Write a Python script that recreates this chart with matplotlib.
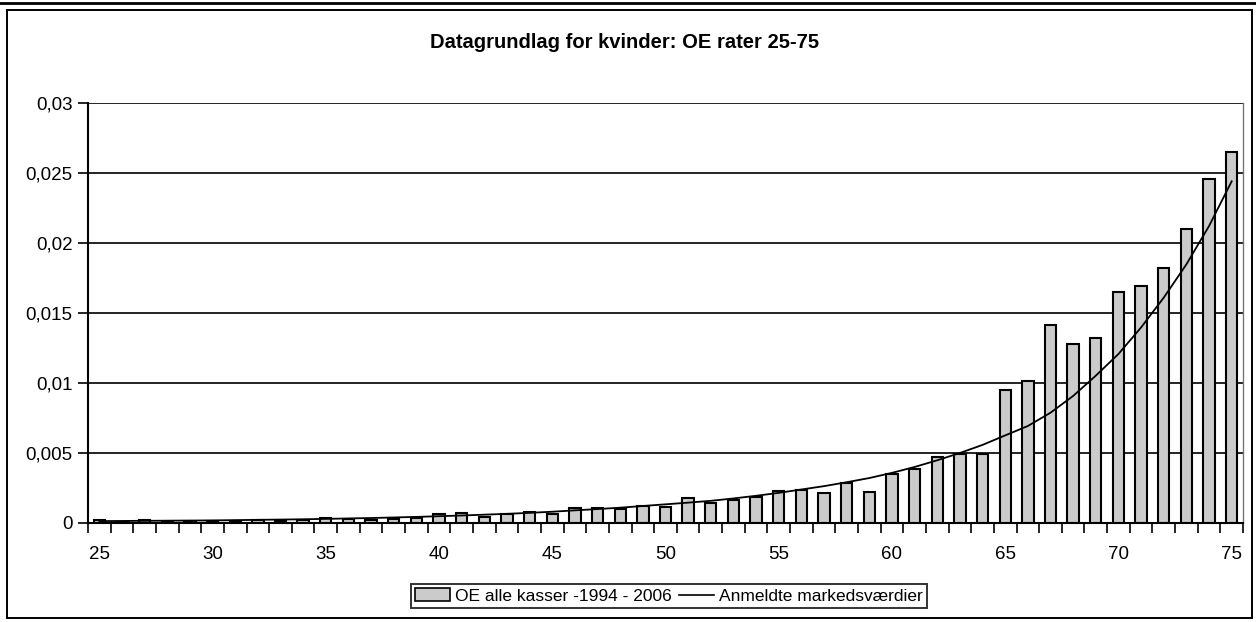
import matplotlib
matplotlib.use("Agg")
import matplotlib.pyplot as plt
from matplotlib.patches import Rectangle, Patch
from matplotlib.lines import Line2D
from matplotlib.ticker import FixedLocator

plt.rcParams['font.family'] = ['Liberation Sans', 'DejaVu Sans']

ages = list(range(25, 76))
oe_rates = [0.00018, 0.00005, 0.00015, 0.00005, 0.00006, 0.00010, 0.00012, 0.00018,
            0.00012, 0.00015, 0.00032, 0.00022, 0.00020, 0.00028, 0.00030, 0.00058,
            0.00066, 0.00041, 0.00060, 0.00073, 0.00060, 0.00101, 0.00101, 0.00094,
            0.00120, 0.00113, 0.00177, 0.00142, 0.00160, 0.00185, 0.00227, 0.00235,
            0.00211, 0.00285, 0.00220, 0.00350, 0.00382, 0.00470, 0.00487, 0.00487,
            0.00950, 0.01015, 0.01412, 0.01280, 0.01316, 0.01650, 0.01688, 0.01822,
            0.02100, 0.02456, 0.02653]
market_values = [0.00010, 0.00011, 0.00012, 0.00013, 0.00014, 0.00015, 0.00017, 0.00019,
                 0.00021, 0.00023, 0.00026, 0.00029, 0.00032, 0.00036, 0.00040, 0.00045,
                 0.00050, 0.00056, 0.00062, 0.00069, 0.00077, 0.00087, 0.00096, 0.00106,
                 0.00118, 0.00130, 0.00142, 0.00155, 0.00172, 0.00191, 0.00212, 0.00236,
                 0.00260, 0.00288, 0.00318, 0.00355, 0.00397, 0.00445, 0.00497, 0.00555,
                 0.00623, 0.00690, 0.00785, 0.00905, 0.01050, 0.01205, 0.01395, 0.01608,
                 0.01846, 0.02120, 0.02440]
x_labels = [25, 30, 35, 40, 45, 50, 55, 60, 65, 70, 75]
y_ticks = [0, 0.005, 0.01, 0.015, 0.02, 0.025, 0.03]
y_labels = ["0", "0,005", "0,01", "0,015", "0,02", "0,025", "0,03"]

title = "Datagrundlag for kvinder: OE rater 25-75"
bar_label = "OE alle kasser -1994 - 2006"
line_label = "Anmeldte markedsværdier"

bar_color = '#cbcbcb'

fig = plt.figure(figsize=(12.56, 6.22), dpi=100)
ax = fig.add_axes([88/1256, 1-522.5/622, (1243-88)/1256, (522.5-103)/622])

for yv in y_ticks[1:]:
    ax.axhline(yv, color='black', lw=1.2, zorder=1)

ax.bar(ages, oe_rates, width=0.5, facecolor=bar_color, edgecolor='black', linewidth=1.5, zorder=2)
ax.plot(ages, market_values, color='black', lw=1.3, zorder=3)

ax.set_xlim(24.5, 75.5)
ax.set_ylim(0, 0.03)

ax.set_xticks(x_labels)
ax.set_xticklabels([str(v) for v in x_labels], fontsize=13.5)
ax.xaxis.set_minor_locator(FixedLocator([a + 0.5 for a in range(24, 76)]))
ax.tick_params(axis='x', which='major', length=0, pad=17)
ax.tick_params(axis='x', which='minor', length=7, width=1.2, direction='out', color='black')

ax.set_yticks(y_ticks)
ax.set_yticklabels(y_labels, fontsize=13.5)
ax.tick_params(axis='y', which='major', length=7, width=1.2, direction='out', pad=4)

for s in ['left', 'bottom']:
    ax.spines[s].set_linewidth(1.5)
    ax.spines[s].set_color('black')
ax.spines['top'].set_visible(False)
ax.spines['right'].set_color('#777777')
ax.spines['right'].set_linewidth(1.0)
ax.spines['right'].set_linestyle((0, (1, 1)))

fig.text(625/1256, 1-43/622, title, ha='center', va='center', fontsize=14.5, fontweight='bold')

handles = [Patch(facecolor=bar_color, edgecolor='black', linewidth=1.2),
           Line2D([0], [0], color='black', lw=1.2)]
leg = fig.legend(handles, [bar_label, line_label], loc='center', bbox_to_anchor=(669/1256, 1-596/622),
                 ncol=2, frameon=True, fancybox=False, fontsize=12.5, handlelength=2.0,
                 handletextpad=0.3, columnspacing=0.4, borderpad=0.25, borderaxespad=0,
                 edgecolor='black')
leg.get_frame().set_linewidth(1.4)

fig.patches.append(Rectangle((7/1256, 1-618/622), (1252-7)/1256, (618-10)/622,
                             transform=fig.transFigure, fill=False, edgecolor='black', lw=1.4))
fig.lines.append(Line2D([0, 1], [1-3/622, 1-3/622], transform=fig.transFigure, color='black', lw=2))

fig.savefig("out.png", dpi=100)
